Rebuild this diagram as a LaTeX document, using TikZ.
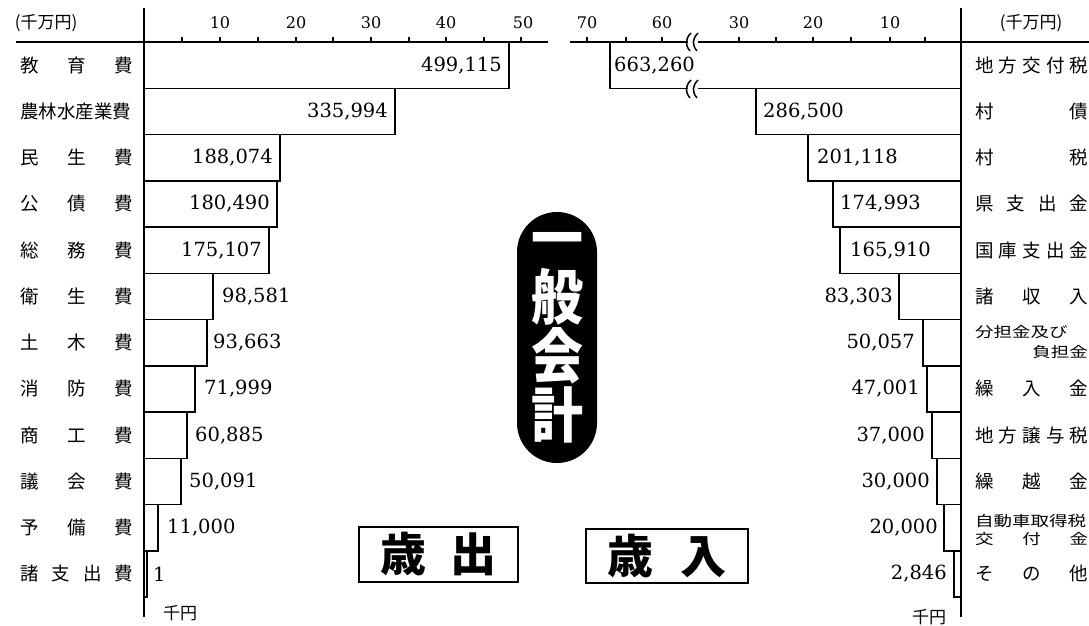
\documentclass[tikz,border=0pt]{standalone}
\usepackage{fontspec}
\usepackage{graphicx}
\newfontfamily\jp{Noto Sans CJK JP}
\newfontfamily\numfont{DejaVu Serif}
\newcommand\jlab[1]{\makebox[113pt][s]{#1}}
\newcommand\squash[1]{\scalebox{1}[0.78]{#1}}
\begin{document}
\begin{tikzpicture}[x=1pt,y=-1pt,
    bar/.style={draw=black,line width=1.5pt},
    axis/.style={draw=black,line width=2pt},
    val/.style={font=\numfont\fontsize{19.5}{19.5}\selectfont},
    tick/.style={font=\numfont\fontsize{16}{16}\selectfont},
    lbl/.style={font=\jp\fontsize{18.5}{18.5}\selectfont},
    unit/.style={font=\jp\fontsize{17}{17}\selectfont},
    emblem/.style={fill=black,text=white,rounded corners=40pt,minimum width=80pt,
        minimum height=251pt,align=center,font=\jp\bfseries\fontsize{52}{59}\selectfont},
    titlebox/.style={draw=black,line width=1.3pt,font=\jp\bfseries\fontsize{46}{46}\selectfont}]
    \tikzstyle{every node}+=[inner sep=0pt]
    \useasboundingbox (0,0) rectangle (1089,626);
    % axes
    \draw [axis] (16,42) -- (548,42);
    \draw [axis] (570,42) -- (1089,42);
    \draw [axis] (144,8) -- (144,617);
    \draw [axis] (961,8) -- (961,617);
    \foreach \x in {182,220,258,296,333,371,409,446,484,521}
        \draw [line width=1.2pt] (\x,42) -- (\x,37);
    \foreach \x in {587,626,662,739,776,813,851,890,925}
        \draw [line width=1.2pt] (\x,42) -- (\x,37);
    \node [tick] (t10) at (220,23) {10};
    \node [tick] (t20) at (296,23) {20};
    \node [tick] (t30) at (371,23) {30};
    \node [tick] (t40) at (446,23) {40};
    \node [tick] (t50) at (523,23) {50};
    \node [tick] (s70) at (587,23) {70};
    \node [tick] (s60) at (662,23) {60};
    \node [tick] (s30) at (739,23) {30};
    \node [tick] (s20) at (813,23) {20};
    \node [tick] (s10) at (890,23) {10};
    \node [unit] (uleft) at (46,23) {(千万円)};
    \node [unit] (uright) at (1031,23) {(千万円)};
    \node [unit] (yenleft) at (180,613) {千円};
    \node [unit] (yenright) at (929,617) {千円};
    % 歳出 bars
    \draw [bar] (144,42) rectangle (509,88.25);
    \draw [bar] (144,88.25) rectangle (395,134.5);
    \draw [bar] (144,134.5) rectangle (280,180.75);
    \draw [bar] (144,180.75) rectangle (277,227);
    \draw [bar] (144,227) rectangle (269,273.25);
    \draw [bar] (144,273.25) rectangle (213,319.5);
    \draw [bar] (144,319.5) rectangle (207,365.75);
    \draw [bar] (144,365.75) rectangle (195,412);
    \draw [bar] (144,412) rectangle (187,458.25);
    \draw [bar] (144,458.25) rectangle (181,504.5);
    \draw [bar] (144,504.5) rectangle (158,550.75);
    \draw [bar] (144,550.75) rectangle (147,597);
    \node [val,anchor=east] (e1) at (502,65.1) {499,115};
    \node [val,anchor=east] (e2) at (388,111.4) {335,994};
    \node [val,anchor=east] (e3) at (273,157.6) {188,074};
    \node [val,anchor=east] (e4) at (270,203.9) {180,490};
    \node [val,anchor=east] (e5) at (262,250.1) {175,107};
    \node [val,anchor=west] (e6) at (222,296.4) {98,581};
    \node [val,anchor=west] (e7) at (213,342.6) {93,663};
    \node [val,anchor=west] (e8) at (204,388.9) {71,999};
    \node [val,anchor=west] (e9) at (195,435.1) {60,885};
    \node [val,anchor=west] (e10) at (189,481.4) {50,091};
    \node [val,anchor=west] (e11) at (167,527.6) {11,000};
    \node [val,anchor=west] (e12) at (153,573.9) {1};
    \node [lbl,anchor=west] (l1) at (20,65.1) {\jlab{教\hfill 育\hfill 費}};
    \node [lbl,anchor=west] (l2) at (20,111.4) {\jlab{農林水産業費}};
    \node [lbl,anchor=west] (l3) at (20,157.6) {\jlab{民\hfill 生\hfill 費}};
    \node [lbl,anchor=west] (l4) at (20,203.9) {\jlab{公\hfill 債\hfill 費}};
    \node [lbl,anchor=west] (l5) at (20,250.1) {\jlab{総\hfill 務\hfill 費}};
    \node [lbl,anchor=west] (l6) at (20,296.4) {\jlab{衛\hfill 生\hfill 費}};
    \node [lbl,anchor=west] (l7) at (20,342.6) {\jlab{土\hfill 木\hfill 費}};
    \node [lbl,anchor=west] (l8) at (20,388.9) {\jlab{消\hfill 防\hfill 費}};
    \node [lbl,anchor=west] (l9) at (20,435.1) {\jlab{商\hfill 工\hfill 費}};
    \node [lbl,anchor=west] (l10) at (20,481.4) {\jlab{議\hfill 会\hfill 費}};
    \node [lbl,anchor=west] (l11) at (20,527.6) {\jlab{予\hfill 備\hfill 費}};
    \node [lbl,anchor=west] (l12) at (20,573.9) {\jlab{諸\hfill 支\hfill 出\hfill 費}};
    % 歳入 bars
    \draw [bar] (610,42) rectangle (961,88.25);
    \draw [bar] (756,88.25) rectangle (961,134.5);
    \draw [bar] (808,134.5) rectangle (961,180.75);
    \draw [bar] (833,180.75) rectangle (961,227);
    \draw [bar] (840,227) rectangle (961,273.25);
    \draw [bar] (899,273.25) rectangle (961,319.5);
    \draw [bar] (923,319.5) rectangle (961,365.75);
    \draw [bar] (927,365.75) rectangle (961,412);
    \draw [bar] (932,412) rectangle (961,458.25);
    \draw [bar] (937,458.25) rectangle (961,504.5);
    \draw [bar] (944,504.5) rectangle (961,550.75);
    \draw [bar] (954,550.75) rectangle (961,597);
    % break marks
    \fill [white] (688,35) rectangle (698,49);
    \fill [white] (688,82) rectangle (698,96);
    \draw [line width=1.5pt] (691,33) .. controls (685,39) and (685,45) .. (690,51);
    \draw [line width=1.5pt] (698,33) .. controls (692,39) and (692,45) .. (697,51);
    \draw [line width=1.5pt] (691,80) .. controls (685,86) and (685,92) .. (690,98);
    \draw [line width=1.5pt] (698,80) .. controls (692,86) and (692,92) .. (697,98);
    \node [val,anchor=west] (r1) at (614,65.1) {663,260};
    \node [val,anchor=west] (r2) at (763,111.4) {286,500};
    \node [val,anchor=west] (r3) at (817,157.6) {201,118};
    \node [val,anchor=west] (r4) at (840,203.9) {174,993};
    \node [val,anchor=west] (r5) at (850,250.1) {165,910};
    \node [val,anchor=east] (r6) at (893,296.4) {83,303};
    \node [val,anchor=east] (r7) at (915,342.6) {50,057};
    \node [val,anchor=east] (r8) at (920,388.9) {47,001};
    \node [val,anchor=east] (r9) at (925,435.1) {37,000};
    \node [val,anchor=east] (r10) at (930,481.4) {30,000};
    \node [val,anchor=east] (r11) at (938,527.6) {20,000};
    \node [val,anchor=east] (r12) at (947,573.9) {2,846};
    \node [lbl,anchor=west] (k1) at (975,65.1) {\jlab{地\hfill 方\hfill 交\hfill 付\hfill 税}};
    \node [lbl,anchor=west] (k2) at (975,111.4) {\jlab{村\hfill 債}};
    \node [lbl,anchor=west] (k3) at (975,157.6) {\jlab{村\hfill 税}};
    \node [lbl,anchor=west] (k4) at (975,203.9) {\jlab{県\hfill 支\hfill 出\hfill 金}};
    \node [lbl,anchor=west] (k5) at (975,250.1) {\jlab{国\hfill 庫\hfill 支\hfill 出\hfill 金}};
    \node [lbl,anchor=west] (k6) at (975,296.4) {\jlab{諸\hfill 収\hfill 入}};
    \node [lbl,anchor=west] (k7a) at (975,332) {\squash{分担金及び}};
    \node [lbl,anchor=east] (k7b) at (1088,352) {\squash{負担金}};
    \node [lbl,anchor=west] (k8) at (975,388.9) {\jlab{繰\hfill 入\hfill 金}};
    \node [lbl,anchor=west] (k9) at (975,435.1) {\jlab{地\hfill 方\hfill 譲\hfill 与\hfill 税}};
    \node [lbl,anchor=west] (k10) at (975,481.4) {\jlab{繰\hfill 越\hfill 金}};
    \node [lbl,anchor=west] (k11a) at (975,521) {\squash{\jlab{自動車取得税}}};
    \node [lbl,anchor=west] (k11b) at (975,539) {\squash{\jlab{交\hfill 付\hfill 金}}};
    \node [lbl,anchor=west] (k12) at (975,573.9) {\jlab{そ\hfill の\hfill 他}};
    % centre
    \node [emblem] (ippan) at (557,337.5) {\scalebox{1}[1.15]{一}\\\scalebox{1}[1.15]{般}\\\scalebox{1}[1.15]{会}\\\scalebox{1}[1.15]{計}};
    \node [titlebox,minimum width=159pt,minimum height=55pt] (out) at (438.5,554.5) {歳\hspace{25pt}出};
    \node [titlebox,minimum width=162pt,minimum height=54pt] (in) at (667,556) {歳\hspace{27pt}入};
\end{tikzpicture}
\end{document}
